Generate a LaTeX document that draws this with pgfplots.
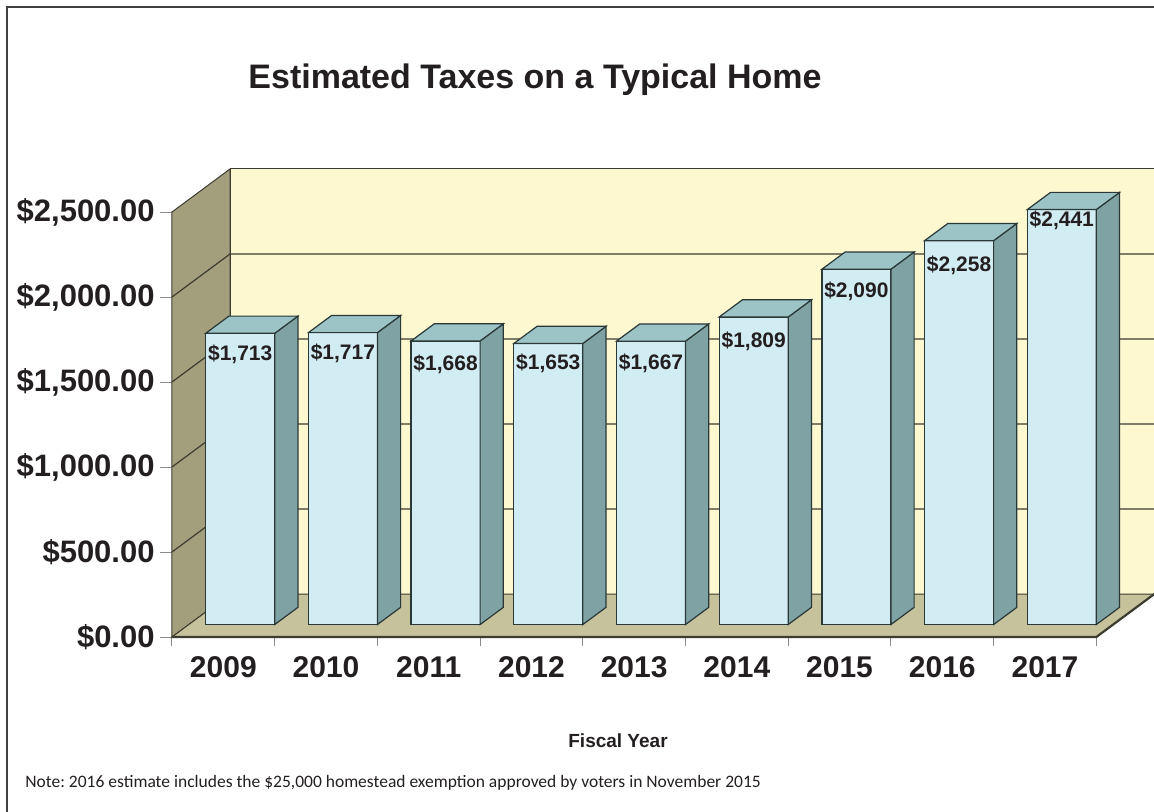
\documentclass[border=0pt]{standalone}
\usepackage{pgfplots}
\pgfplotsset{compat=1.18}
\usepackage{pgfplotstable}
\usepackage{fontspec}
\setmainfont{Liberation Sans}
\newfontfamily\notefont{Carlito}

\definecolor{backwall}{HTML}{FDF8D0}
\definecolor{sidewall}{HTML}{A39F7C}
\definecolor{floorc}{HTML}{C5C29C}
\definecolor{edgec}{HTML}{3C3C30}
\definecolor{barfront}{HTML}{D2ECF3}
\definecolor{barside}{HTML}{7FA2A4}
\definecolor{bartop}{HTML}{9CC3C6}
\definecolor{baredge}{HTML}{2A3838}
\definecolor{txt}{HTML}{231F20}

\pgfkeys{/pgf/number format/.cd,fixed,precision=0,1000 sep={,},assume math mode=true}
\tikzset{barlab/.style={font=\bfseries\fontsize{10.5}{12}\selectfont, text=txt}}

\pgfplotstableread{
x   v     lo
0.5 1713  124
1.5 1717  124
2.5 1668  135
3.5 1653  118
4.5 1667  129
5.5 1809  141
6.5 2090  129
7.5 2258  147
8.5 2441  65
}\taxdata

\begin{document}
\frenchspacing
\begin{tikzpicture}
\useasboundingbox (0pt,0pt) rectangle (577pt,405.5pt);
\draw[line width=1pt, black!75] (3.5pt,-2pt) -- (3.5pt,402pt) -- (580pt,402pt);
\node[font=\bfseries\fontsize{17}{20}\selectfont, text=txt] at (267.5pt,365.5pt) {Estimated Taxes on a Typical Home};
\node[font=\bfseries\fontsize{9.5}{11}\selectfont, text=txt] at (309pt,35pt) {Fiscal Year};
\node[font=\notefont\fontsize{8.75}{10}\selectfont, text=txt, anchor=west, inner sep=0pt] at (12.5pt,14pt) {Note: 2016 estimate includes the \$25,000 homestead exemption approved by voters in November 2015};
\begin{axis}[
  at={(86pt,87pt)}, anchor=south west,
  x=51.35pt, y=0.085pt,
  xmin=0, xmax=9, ymin=0, ymax=2500,
  clip=false,
  axis line style={draw=none},
  tick pos=left,
  tick align=outside,
  xtick={0.5,1.5,...,8.5},
  xticklabels={2009,2010,2011,2012,2013,2014,2015,2016,2017},
  minor xtick={0,1,...,9},
  major x tick style={draw=none},
  minor x tick style={draw=black!45, line width=0.5pt},
  minor tick length=4.5pt,
  major tick length=6pt,
  ytick={0,500,...,2500},
  yticklabels={\$0.00,\$500.00,{\$1,000.00},{\$1,500.00},{\$2,000.00},{\$2,500.00}},
  major y tick style={draw=black!45, line width=0.5pt},
  xticklabel style={font=\bfseries\fontsize{15}{18}\selectfont, text=txt},
  yticklabel style={font=\bfseries\fontsize{15.5}{18}\selectfont, text=txt, inner sep=2.5pt},
]
% walls and floor
\addplot[fill=sidewall, draw=edgec, line width=0.5pt] coordinates {(0,0) (0.565,253) (0.565,2753) (0,2500)} -- cycle;
\addplot[fill=backwall, draw=edgec, line width=0.5pt] coordinates {(0.565,253) (9.7,253) (9.7,2753) (0.565,2753)} -- cycle;
\addplot[fill=floorc, draw=edgec, line width=0.5pt] coordinates {(0,0) (9,0) (9.565,253) (0.565,253)} -- cycle;
\addplot[draw=edgec, line width=1.1pt] coordinates {(0,0) (9,0) (9.565,253)};
% gridlines
\addplot[draw=edgec, line width=0.6pt] coordinates {(0,500) (0.565,753) (9.7,753)};
\addplot[draw=edgec, line width=0.6pt] coordinates {(0,1000) (0.565,1253) (9.7,1253)};
\addplot[draw=edgec, line width=0.6pt] coordinates {(0,1500) (0.565,1753) (9.7,1753)};
\addplot[draw=edgec, line width=0.6pt] coordinates {(0,2000) (0.565,2253) (9.7,2253)};
% bars
\pgfplotsinvokeforeach{0,...,8}{
  \pgfplotstablegetelem{#1}{v}\of\taxdata \let\bv\pgfplotsretval
  \pgfplotstablegetelem{#1}{x}\of\taxdata \let\bx\pgfplotsretval
  \pgfplotstablegetelem{#1}{lo}\of\taxdata \let\blo\pgfplotsretval
  \pgfmathsetmacro\xa{\bx+0.164-0.336}
  \pgfmathsetmacro\xb{\bx+0.164+0.336}
  \pgfmathsetmacro\xc{\xb+0.226}
  \pgfmathsetmacro\xd{\xa+0.226}
  \pgfmathsetmacro\xm{\bx+0.164}
  \pgfmathsetmacro\ya{73.4}
  \pgfmathsetmacro\yb{73.4+101}
  \pgfmathsetmacro\yt{73.4+\bv}
  \pgfmathsetmacro\yu{\yt+101}
  \pgfmathsetmacro\yl{\yt-\blo}
  \edef\drawbar{%
    \noexpand\addplot[fill=barfront, draw=baredge, line width=0.6pt] coordinates {(\xa,\ya) (\xb,\ya) (\xb,\yt) (\xa,\yt)} -- cycle;
    \noexpand\addplot[fill=barside, draw=baredge, line width=0.6pt] coordinates {(\xb,\ya) (\xc,\yb) (\xc,\yu) (\xb,\yt)} -- cycle;
    \noexpand\addplot[fill=bartop, draw=baredge, line width=0.6pt] coordinates {(\xa,\yt) (\xb,\yt) (\xc,\yu) (\xd,\yu)} -- cycle;
    \noexpand\node[barlab] at (axis cs:\xm,\yl) {\noexpand\$\noexpand\pgfmathprintnumber{\bv}};
  }%
  \drawbar
}
\end{axis}
\end{tikzpicture}
\end{document}
